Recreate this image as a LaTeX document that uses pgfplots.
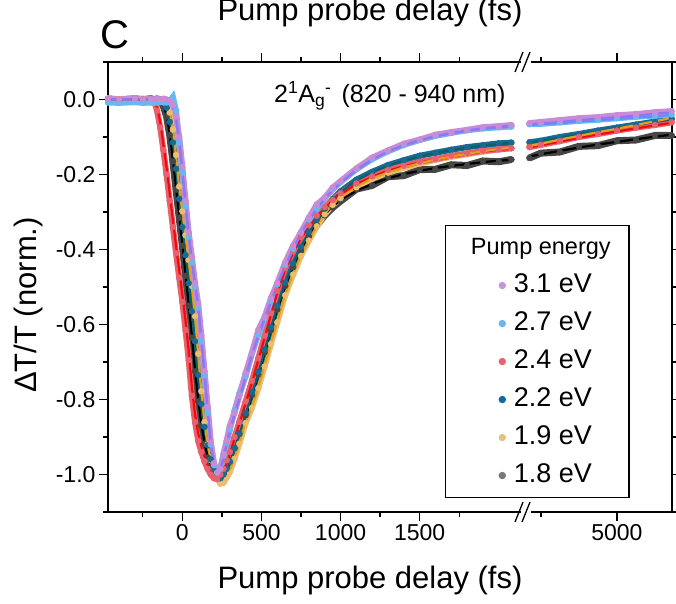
\documentclass[border=0pt]{standalone}
\usepackage{fontspec}
\setmainfont{Liberation Sans}
\usepackage{pgfplots}
\usepackage{pgfplotstable}
\pgfplotsset{compat=1.18}

% data (scatter) colours
\definecolor{d31}{RGB}{200,140,215}
\definecolor{d27}{RGB}{100,185,245}
\definecolor{d24}{RGB}{232,95,110}
\definecolor{d22}{RGB}{25,105,145}
\definecolor{d19}{RGB}{235,190,110}
\definecolor{d18}{RGB}{70,70,70}
% fit colours
\definecolor{f31}{RGB}{140,120,245}
\definecolor{f27}{RGB}{110,135,250}
\definecolor{f24}{RGB}{240,10,10}
\definecolor{f22}{RGB}{10,95,105}
\definecolor{f19}{RGB}{225,160,30}
% legend dots
\definecolor{l31}{RGB}{200,150,215}
\definecolor{l27}{RGB}{110,180,240}
\definecolor{l24}{RGB}{230,100,110}
\definecolor{l22}{RGB}{20,105,150}
\definecolor{l19}{RGB}{228,195,130}
\definecolor{l18}{RGB}{120,120,120}

\newcommand\tickfont{\fontsize{23}{27}\selectfont}
\newcommand\labfont{\fontsize{31}{36}\selectfont}

\pgfplotsset{
  dat/.style={mark=*, mark size=3pt, line width=6pt, mark options={solid,line width=0.4pt}, forget plot},
  fit/.style={line width=2.2pt, forget plot},
  dot/.style={legend image code/.code={\path (0pt,0pt) (30pt,0pt); \fill[#1] (21pt,0pt) circle (3pt);}},
}

\begin{document}
% t = delay (fs), f = fit, d = measured
\pgfplotstableread{
t f d
-470 0 0.002
-400 0 0
-300 0 0.003
-250 0 0
-200 0 0.002
-180 0 0
-160 0 0.003
-140 0 0
-120 0 0.002
-100 -0.001 0
-80 -0.006 -0.004
-60 -0.018 -0.015
-40 -0.05 -0.045
-20 -0.11 -0.10
0 -0.19 -0.18
20 -0.28 -0.27
40 -0.36 -0.355
60 -0.43 -0.42
80 -0.49 -0.49
100 -0.55 -0.545
120 -0.64 -0.63
140 -0.73 -0.725
160 -0.83 -0.82
180 -0.92 -0.915
200 -0.975 -0.97
220 -0.998 -0.995
240 -0.99 -0.985
260 -0.955 -0.945
280 -0.92 -0.91
300 -0.885 -0.87
330 -0.84 -0.835
360 -0.80 -0.79
400 -0.74 -0.73
440 -0.68 -0.675
480 -0.63 -0.615
520 -0.585 -0.58
560 -0.54 -0.53
600 -0.495 -0.49
650 -0.445 -0.435
700 -0.40 -0.39
750 -0.357 -0.355
800 -0.322 -0.315
850 -0.292 -0.28
900 -0.265 -0.262
950 -0.242 -0.235
1000 -0.222 -0.218
1100 -0.188 -0.184
1200 -0.16 -0.155
1300 -0.139 -0.136
1400 -0.122 -0.118
1500 -0.109 -0.107
1600 -0.098 -0.094
1700 -0.09 -0.087
1800 -0.083 -0.081
1900 -0.077 -0.074
2000 -0.073 -0.071
2080 -0.07 -0.068
3000 nan nan
3850 -0.066 -0.063
4000 -0.064 -0.060
4250 -0.06 -0.055
4500 -0.055 -0.050
4750 -0.051 -0.047
5000 -0.047 -0.042
5250 -0.043 -0.039
5500 -0.038 -0.034
5720 -0.034 -0.031
}\tA
\pgfplotstableread{
t f d
-470 0 -0.008
-400 0 -0.009
-300 0 -0.007
-250 0 -0.009
-200 0 -0.008
-180 0 -0.008
-160 0 -0.009
-140 0 -0.007
-120 0 -0.008
-100 -0.001 -0.008
-80 -0.006 -0.006
-60 -0.018 0.006
-40 -0.05 -0.03
-20 -0.11 -0.115
0 -0.19 -0.195
20 -0.28 -0.285
40 -0.36 -0.365
60 -0.43 -0.435
80 -0.49 -0.5
100 -0.55 -0.555
120 -0.64 -0.645
140 -0.73 -0.735
160 -0.83 -0.835
180 -0.92 -0.92
200 -0.975 -0.975
220 -0.998 -0.995
240 -0.99 -0.985
260 -0.955 -0.95
280 -0.92 -0.915
300 -0.885 -0.88
330 -0.84 -0.83
360 -0.80 -0.785
400 -0.74 -0.738
440 -0.68 -0.677
480 -0.63 -0.627
520 -0.585 -0.582
560 -0.54 -0.537
600 -0.495 -0.493
650 -0.445 -0.442
700 -0.40 -0.398
750 -0.357 -0.354
800 -0.322 -0.32
850 -0.292 -0.29
900 -0.265 -0.263
950 -0.242 -0.24
1000 -0.222 -0.22
1100 -0.188 -0.186
1200 -0.16 -0.159
1300 -0.139 -0.138
1400 -0.122 -0.121
1500 -0.109 -0.108
1600 -0.098 -0.097
1700 -0.09 -0.089
1800 -0.083 -0.082
1900 -0.078 -0.077
2000 -0.075 -0.074
2080 -0.072 -0.072
3000 nan nan
3850 -0.068 -0.066
4000 -0.066 -0.065
4250 -0.063 -0.061
4500 -0.059 -0.057
4750 -0.055 -0.054
5000 -0.052 -0.05
5250 -0.048 -0.046
5500 -0.045 -0.043
5720 -0.041 -0.04
}\tB
\pgfplotstableread{
t f d
-470 0 0.002
-400 0 0
-300 0 0.003
-250 0 0
-200 0 0.002
-180 -0.004 -0.002
-160 -0.02 -0.03
-140 -0.06 -0.075
-120 -0.12 -0.135
-100 -0.18 -0.20
-80 -0.25 -0.27
-60 -0.32 -0.34
-40 -0.39 -0.41
-20 -0.455 -0.475
0 -0.52 -0.54
20 -0.59 -0.615
40 -0.67 -0.695
60 -0.765 -0.79
80 -0.84 -0.86
100 -0.89 -0.91
120 -0.925 -0.94
140 -0.952 -0.965
160 -0.975 -0.985
180 -0.993 -1.0
200 -1.005 -1.01
220 -1.01 -1.012
240 -1.005 -1.0
260 -0.99 -0.985
280 -0.97 -0.962
300 -0.945 -0.94
330 -0.905 -0.9
360 -0.865 -0.86
400 -0.81 -0.805
440 -0.755 -0.75
480 -0.695 -0.69
520 -0.635 -0.63
560 -0.575 -0.57
600 -0.515 -0.51
650 -0.455 -0.45
700 -0.41 -0.405
750 -0.37 -0.367
800 -0.34 -0.335
850 -0.312 -0.31
900 -0.29 -0.287
950 -0.27 -0.268
1000 -0.253 -0.25
1100 -0.226 -0.224
1200 -0.206 -0.205
1300 -0.19 -0.188
1400 -0.178 -0.177
1500 -0.168 -0.166
1600 -0.16 -0.159
1700 -0.152 -0.15
1800 -0.145 -0.144
1900 -0.139 -0.137
2000 -0.134 -0.133
2080 -0.131 -0.13
3000 nan nan
3850 -0.128 -0.127
4000 -0.122 -0.121
4250 -0.112 -0.111
4500 -0.102 -0.1
4750 -0.093 -0.092
5000 -0.085 -0.083
5250 -0.077 -0.075
5500 -0.069 -0.068
5720 -0.062 -0.061
}\tC
\pgfplotstableread{
t f d
-470 0 0.001
-400 0 -0.002
-300 0 0.002
-250 0 0
-200 0 0.003
-180 0 0
-160 0 0.002
-140 0 0
-120 -0.005 -0.004
-100 -0.02 -0.022
-80 -0.055 -0.06
-60 -0.11 -0.115
-40 -0.18 -0.185
-20 -0.26 -0.265
0 -0.335 -0.34
20 -0.41 -0.415
40 -0.485 -0.49
60 -0.56 -0.565
80 -0.64 -0.645
100 -0.73 -0.735
120 -0.81 -0.812
140 -0.87 -0.873
160 -0.92 -0.922
180 -0.96 -0.96
200 -0.99 -0.99
220 -1.005 -1.003
240 -1.012 -1.01
260 -1.005 -1.0
280 -0.99 -0.985
300 -0.97 -0.965
330 -0.935 -0.93
360 -0.895 -0.89
400 -0.84 -0.836
440 -0.785 -0.78
480 -0.73 -0.726
520 -0.67 -0.667
560 -0.61 -0.607
600 -0.553 -0.55
650 -0.49 -0.488
700 -0.44 -0.437
750 -0.395 -0.393
800 -0.355 -0.353
850 -0.322 -0.32
900 -0.293 -0.291
950 -0.268 -0.266
1000 -0.247 -0.245
1100 -0.216 -0.214
1200 -0.194 -0.193
1300 -0.177 -0.175
1400 -0.163 -0.162
1500 -0.152 -0.15
1600 -0.143 -0.142
1700 -0.135 -0.134
1800 -0.129 -0.127
1900 -0.123 -0.122
2000 -0.119 -0.117
2080 -0.116 -0.115
3000 nan nan
3850 -0.116 -0.114
4000 -0.111 -0.11
4250 -0.102 -0.1
4500 -0.093 -0.092
4750 -0.085 -0.083
5000 -0.076 -0.075
5250 -0.068 -0.067
5500 -0.06 -0.059
5720 -0.053 -0.052
}\tD
\pgfplotstableread{
t f d
-470 0 0.003
-400 0 0.001
-300 0 0.003
-250 0 0.002
-200 0 0.003
-180 0 0.001
-160 0 0.003
-140 0 0.001
-120 -0.002 0
-100 -0.01 -0.01
-80 -0.035 -0.035
-60 -0.08 -0.08
-40 -0.15 -0.148
-20 -0.235 -0.232
0 -0.30 -0.298
20 -0.365 -0.362
40 -0.43 -0.428
60 -0.50 -0.497
80 -0.58 -0.578
100 -0.68 -0.678
120 -0.78 -0.778
140 -0.86 -0.86
160 -0.92 -0.92
180 -0.962 -0.962
200 -0.99 -0.99
220 -1.01 -1.01
240 -1.022 -1.024
260 -1.02 -1.022
280 -1.005 -1.008
300 -0.99 -0.993
330 -0.955 -0.958
360 -0.915 -0.918
400 -0.86 -0.863
440 -0.82 -0.822
480 -0.768 -0.77
520 -0.71 -0.712
560 -0.65 -0.652
600 -0.592 -0.594
650 -0.52 -0.522
700 -0.465 -0.467
750 -0.415 -0.417
800 -0.375 -0.376
850 -0.337 -0.338
900 -0.305 -0.306
950 -0.28 -0.281
1000 -0.262 -0.263
1100 -0.233 -0.234
1200 -0.21 -0.211
1300 -0.195 -0.195
1400 -0.181 -0.182
1500 -0.17 -0.171
1600 -0.16 -0.161
1700 -0.152 -0.153
1800 -0.145 -0.146
1900 -0.138 -0.139
2000 -0.132 -0.133
2080 -0.129 -0.13
3000 nan nan
3850 -0.124 -0.125
4000 -0.118 -0.119
4250 -0.107 -0.108
4500 -0.097 -0.098
4750 -0.087 -0.088
5000 -0.078 -0.079
5250 -0.068 -0.069
5500 -0.058 -0.059
5720 -0.049 -0.05
}\tE
\pgfplotstableread{
t f d
-470 0 0.002
-400 0 -0.002
-300 0 0.002
-250 0 -0.001
-200 0 0.002
-180 0 -0.001
-160 0 0.001
-140 -0.003 -0.004
-120 -0.015 -0.018
-100 -0.04 -0.045
-80 -0.09 -0.095
-60 -0.16 -0.165
-40 -0.235 -0.24
-20 -0.31 -0.315
0 -0.385 -0.39
20 -0.465 -0.47
40 -0.545 -0.55
60 -0.63 -0.635
80 -0.72 -0.725
100 -0.80 -0.805
120 -0.865 -0.87
140 -0.915 -0.918
160 -0.952 -0.955
180 -0.978 -0.98
200 -0.995 -0.997
220 -1.005 -1.006
240 -1.01 -1.01
260 -1.003 -1.0
280 -0.99 -0.986
300 -0.97 -0.966
330 -0.935 -0.93
360 -0.895 -0.892
400 -0.845 -0.842
440 -0.79 -0.788
480 -0.735 -0.733
520 -0.675 -0.674
560 -0.615 -0.615
600 -0.56 -0.56
650 -0.497 -0.497
700 -0.445 -0.447
750 -0.40 -0.403
800 -0.362 -0.366
850 -0.332 -0.335
900 -0.306 -0.309
950 -0.285 -0.288
1000 -0.268 -0.271
1100 -0.243 -0.239
1200 -0.225 -0.229
1300 -0.21 -0.206
1400 -0.199 -0.203
1500 -0.19 -0.187
1600 -0.183 -0.186
1700 -0.177 -0.174
1800 -0.172 -0.176
1900 -0.167 -0.164
2000 -0.163 -0.166
2080 -0.161 -0.16
3000 nan nan
3850 -0.152 -0.156
4000 -0.146 -0.143
4250 -0.137 -0.14
4500 -0.128 -0.125
4750 -0.12 -0.123
5000 -0.113 -0.11
5250 -0.106 -0.108
5500 -0.099 -0.096
5720 -0.094 -0.096
}\tF

\begin{tikzpicture}
\path[use as bounding box] (-108pt,-91pt) rectangle (568pt,512pt);
\begin{axis}[
  at={(0pt,0pt)}, anchor=south west,
  scale only axis, width=564pt, height=450pt,
  xmin=-470, xmax=3095, ymin=-1.1, ymax=0.1,
  x filter/.expression={x>2500 ? 2747+(x-5000)*0.481 : x},
  unbounded coords=jump,
  xtick={0,500,1000,1500,2747},
  xticklabels={0,500,1000,1500,5000},
  minor xtick={-250,250,750,1250,1750,2266},
  ytick={-1.0,-0.8,-0.6,-0.4,-0.2,0},
  minor ytick={-1.1,-0.9,-0.7,-0.5,-0.3,-0.1,0.1},
  yticklabel style={/pgf/number format/.cd, fixed, fixed zerofill, precision=1},
  /pgf/number format/assume math mode=true,
  ticklabel style={font=\tickfont},
  tick align=outside,
  major tick length=9pt, minor tick length=5pt,
  tick style={line width=1.3pt, black},
  axis line style={line width=1.5pt},
  legend style={at={(0.5975,0.638)}, anchor=north west, draw=black, line width=1.3pt,
    font=\fontsize{27}{32}\selectfont, inner xsep=35pt, inner ysep=6pt, row sep=6pt,
    nodes={inner sep=2pt, text height=21pt, text depth=7pt}},
  legend cell align=left,
]
% measured points
\addplot[dat, d18, line width=7pt] table[x=t, y=d] {\tF};
\addplot[dat, d19] table[x=t, y=d] {\tE};
\addplot[dat, d22] table[x=t, y=d] {\tD};
\addplot[dat, d24] table[x=t, y=d] {\tC};
\addplot[dat, d27] table[x=t, y=d] {\tB};
\addplot[dat, d31] table[x=t, y=d] {\tA};
% fits
\addplot[fit, black] table[x=t, y=f] {\tF};
\addplot[fit, f22] table[x=t, y=f] {\tD};
\addplot[fit, f24] table[x=t, y=f] {\tC};
\addplot[fit, f19] table[x=t, y=f] {\tE};
\addplot[fit, f27] table[x=t, y=f] {\tB};
\addplot[fit, f31] table[x=t, y=f] {\tA};

\addlegendimage{empty legend}
\addlegendentry{\hspace*{-43pt}{\fontsize{23.5}{28}\selectfont Pump energy}\hspace*{-19pt}}
\addlegendimage{dot=l31}\addlegendentry{3.1 eV}
\addlegendimage{dot=l27}\addlegendentry{2.7 eV}
\addlegendimage{dot=l24}\addlegendentry{2.4 eV}
\addlegendimage{dot=l22}\addlegendentry{2.2 eV}
\addlegendimage{dot=l19}\addlegendentry{1.9 eV}
\addlegendimage{dot=l18}\addlegendentry{1.8 eV}
\end{axis}

% axis break marks
\foreach \yy in {0pt,450pt} {
  \fill[white] (413pt,\yy-3pt) rectangle (423pt,\yy+3pt);
  \draw[line width=1.3pt] (407pt,\yy-10pt) -- (415pt,\yy+10pt);
  \draw[line width=1.3pt] (414pt,\yy-10pt) -- (422pt,\yy+10pt);
}

\node[font=\labfont] at (262pt,-68pt) {Pump probe delay (fs)};
\node[font=\labfont] at (262pt,500pt) {Pump probe delay (fs)};
\node[font=\labfont, rotate=90] at (-80pt,207pt) {ΔT/T (norm.)};
\node[font=\fontsize{40}{44}\selectfont] at (7pt,477pt) {C};
\node[font=\fontsize{25}{29}\selectfont, anchor=base west, inner sep=0pt] at (166pt,409pt)
  {2\textsuperscript{1}A\textsubscript{g}\textsuperscript{-}\hspace{0.4em}(820 - 940 nm)};
\end{tikzpicture}
\end{document}
